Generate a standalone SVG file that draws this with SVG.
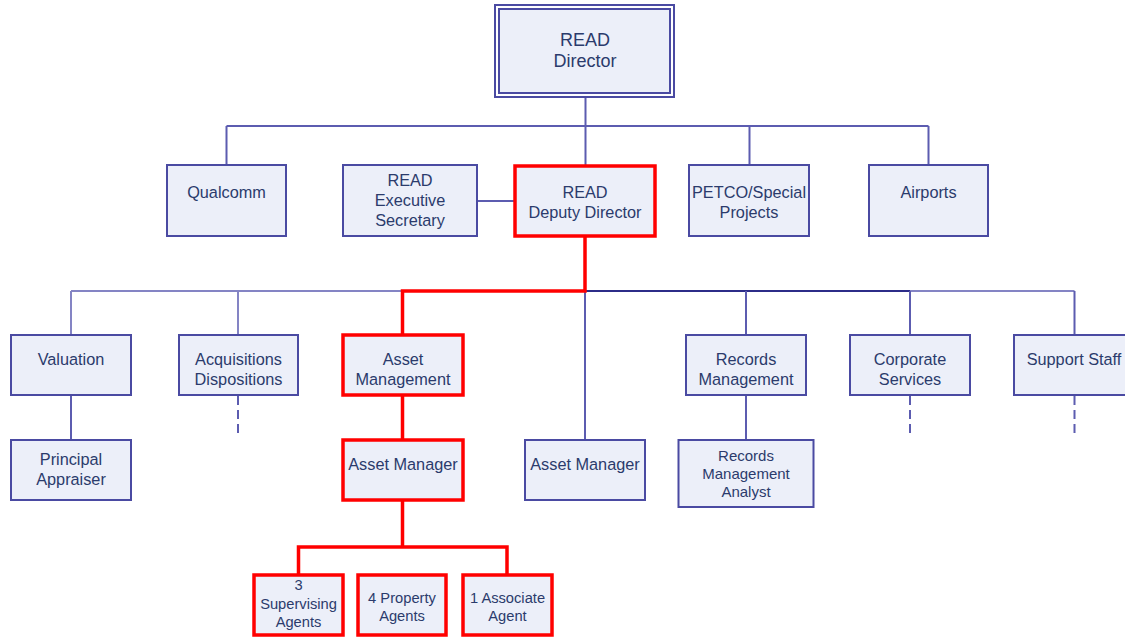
<svg xmlns="http://www.w3.org/2000/svg" width="1125" height="637" viewBox="0 0 1125 637">
<style>
.box{fill:#eceff9;stroke:#4a4aa2;stroke-width:2}
.hl{fill:#eceff9;stroke:#ff0000;stroke-width:3.5}
.t{font-family:"Liberation Sans",Arial,sans-serif;font-size:16.3px;fill:#2b3b6c;text-anchor:middle;dominant-baseline:central}
.s{font-size:15px}
.b{font-size:14.7px}
.d{font-size:18px}
.c{fill:none;stroke:#5c5cb0;stroke-width:2}
.dk{stroke:#2c2c88}
.lt{stroke:#8484c4}
.dash{stroke-dasharray:9 5}
.r{fill:none;stroke:#ff0000;stroke-width:3.5;stroke-linejoin:miter}
</style>
<rect width="1125" height="637" fill="#ffffff"/>
<g id="connectors">
<path class="c" d="M585.5 97V126M226.5 126H928.5M226.5 126V165M749.5 126V165M928.5 126V165M585.5 126V165"/>
<path class="c" d="M477.5 201H514"/>
<path class="c lt" d="M71 291H402.5M71 291V335M238 291V335"/>
<path class="c dk" d="M585 291H910"/>
<path class="c lt" d="M910 291H1074.5"/>
<path class="c" d="M585 291V440M746 291V335M910 291V335M1074.5 291V335"/>
<path class="c" d="M71 395V440M746 395V440"/>
<path class="c dash" d="M238 396V436M910 396V436M1074.5 396V436"/>
<path class="r" d="M585 237V291H402.5V335M402.5 396V440M402.5 500V547M298.5 574V547H507V574"/>
</g>
<g id="director">
<rect x="495" y="5" width="179" height="92" fill="none" stroke="#4a4aa2" stroke-width="2"/>
<rect x="499" y="9" width="171" height="84" class="box"/>
<text class="t d" x="585" y="40">READ</text>
<text class="t d" x="585" y="61">Director</text>
</g>
<g id="qualcomm">
<rect x="167" y="165" width="119" height="71" class="box"/>
<text class="t" x="226.5" y="192">Qualcomm</text>
</g>
<g id="exec-secretary">
<rect x="343" y="165" width="134" height="71" class="box"/>
<text class="t" x="410" y="180">READ</text>
<text class="t" x="410" y="200">Executive</text>
<text class="t" x="410" y="220">Secretary</text>
</g>
<g id="deputy-director">
<rect x="515" y="166" width="140" height="70" class="hl"/>
<text class="t" x="585" y="192">READ</text>
<text class="t" x="585" y="212">Deputy Director</text>
</g>
<g id="petco">
<rect x="689" y="165" width="120" height="71" class="box"/>
<text class="t" x="749" y="192">PETCO/Special</text>
<text class="t" x="749" y="212">Projects</text>
</g>
<g id="airports">
<rect x="869" y="165" width="119" height="71" class="box"/>
<text class="t" x="928.5" y="192">Airports</text>
</g>
<g id="valuation">
<rect x="11" y="335" width="120" height="60" class="box"/>
<text class="t" x="71" y="359">Valuation</text>
</g>
<g id="principal-appraiser">
<rect x="11" y="440" width="120" height="60" class="box"/>
<text class="t" x="71" y="459">Principal</text>
<text class="t" x="71" y="479">Appraiser</text>
</g>
<g id="acquisitions">
<rect x="179" y="335" width="119" height="60" class="box"/>
<text class="t" x="238.5" y="359">Acquisitions</text>
<text class="t" x="238.5" y="379">Dispositions</text>
</g>
<g id="asset-management">
<rect x="343" y="335" width="120" height="60" class="hl"/>
<text class="t" x="403" y="359">Asset</text>
<text class="t" x="403" y="379">Management</text>
</g>
<g id="asset-manager-1">
<rect x="343" y="440" width="120" height="60" class="hl"/>
<text class="t" x="403" y="464">Asset Manager</text>
</g>
<g id="asset-manager-2">
<rect x="525" y="440" width="120" height="60" class="box"/>
<text class="t" x="585" y="464">Asset Manager</text>
</g>
<g id="records-management">
<rect x="686" y="335" width="120" height="60" class="box"/>
<text class="t" x="746" y="359">Records</text>
<text class="t" x="746" y="379">Management</text>
</g>
<g id="records-analyst">
<rect x="678.5" y="440" width="135" height="67" class="box"/>
<text class="t s" x="746" y="455">Records</text>
<text class="t s" x="746" y="473">Management</text>
<text class="t s" x="746" y="491">Analyst</text>
</g>
<g id="corporate-services">
<rect x="850" y="335" width="120" height="60" class="box"/>
<text class="t" x="910" y="359">Corporate</text>
<text class="t" x="910" y="379">Services</text>
</g>
<g id="support-staff">
<rect x="1014" y="335" width="120" height="60" class="box"/>
<text class="t" x="1074" y="359">Support Staff</text>
</g>
<g id="supervising-agents">
<rect x="254" y="575" width="89" height="60" class="hl"/>
<text class="t b" x="298.5" y="585">3</text>
<text class="t b" x="298.5" y="603.5">Supervising</text>
<text class="t b" x="298.5" y="622">Agents</text>
</g>
<g id="property-agents">
<rect x="358" y="575" width="88" height="60" class="hl"/>
<text class="t b" x="402" y="598">4 Property</text>
<text class="t b" x="402" y="616">Agents</text>
</g>
<g id="associate-agent">
<rect x="463" y="575" width="89" height="60" class="hl"/>
<text class="t b" x="507.5" y="598">1 Associate</text>
<text class="t b" x="507.5" y="616">Agent</text>
</g>
</svg>
